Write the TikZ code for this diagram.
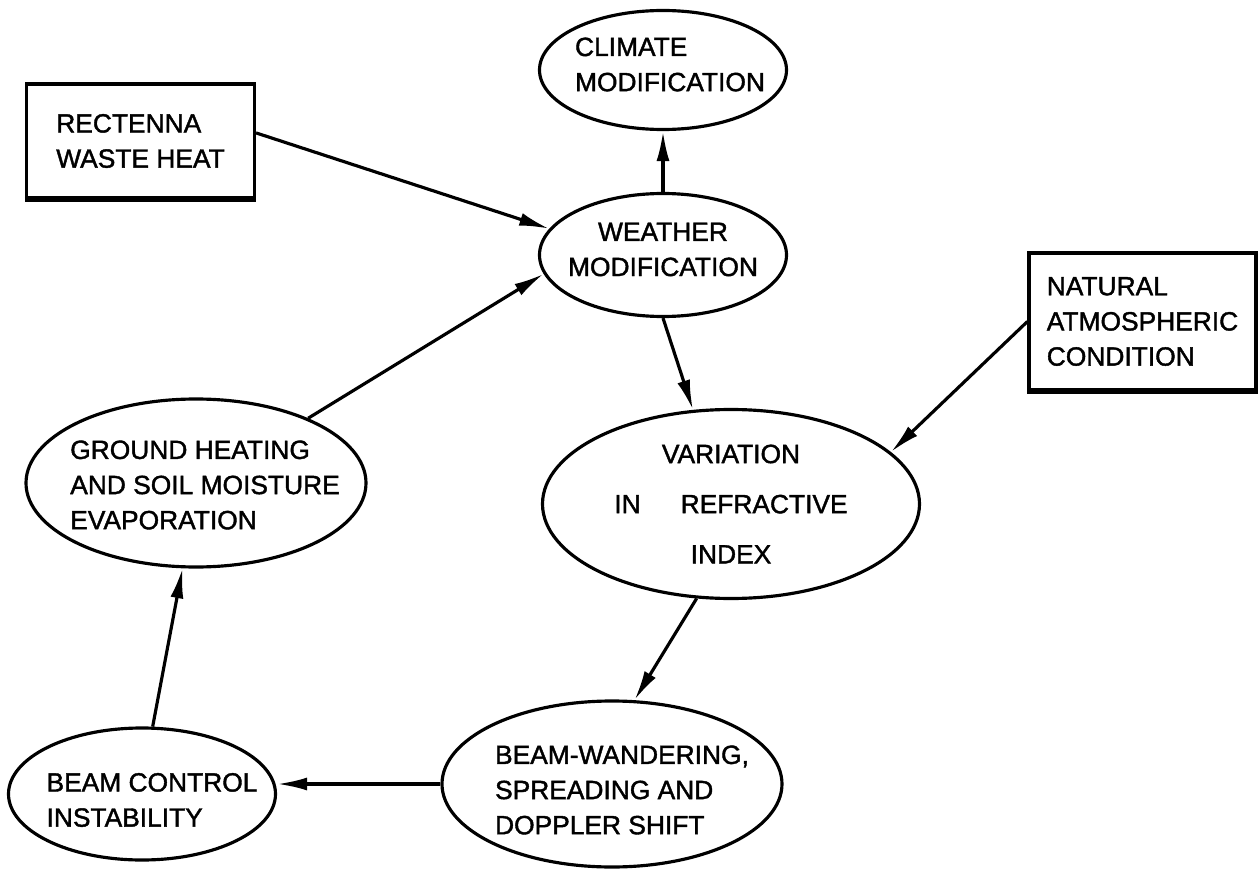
\documentclass[tikz,border=0pt]{standalone}
\usepackage{fontspec}
\setmainfont{Liberation Sans}[FakeBold=1.5]
\usetikzlibrary{shapes.geometric,arrows.meta}

\begin{document}
\begin{tikzpicture}[>={Latex[length=6mm,width=2.6mm]}, line width=1.8pt,
    font=\fontsize{15}{20}\selectfont,
    srcbox/.style={draw, rectangle, align=left, inner sep=0pt},
    blob/.style={draw, ellipse, inner sep=0pt},
    lbl/.style={align=left, inner sep=0pt}]
  \useasboundingbox (0,0) rectangle (25.16,-17.38);
  \node[srcbox, minimum width=4.56cm, minimum height=2.28cm] (rect) at (2.81,-2.82) {RECTENNA\\WASTE HEAT};
  \node[srcbox, minimum width=4.54cm, minimum height=2.74cm] (nat) at (22.85,-6.43) {NATURAL\\ATMOSPHERIC\\CONDITION};
  \draw[line width=3pt] (rect.south west) -- (rect.south east);
  \draw[line width=3pt] (nat.south west) -- (nat.south east);
  \node[blob, minimum width=4.94cm, minimum height=2.38cm] (climate) at (13.26,-1.40) {};
  \node[blob, minimum width=4.94cm, minimum height=2.46cm] (weather) at (13.26,-5.10) {};
  \node[blob, minimum width=7.54cm, minimum height=3.78cm] (refr) at (14.62,-10.08) {};
  \node[blob, minimum width=6.80cm, minimum height=3.36cm] (ground) at (3.92,-9.66) {};
  \node[blob, minimum width=5.34cm, minimum height=2.64cm] (control) at (2.84,-15.88) {};
  \node[blob, minimum width=6.80cm, minimum height=3.32cm] (wander) at (12.24,-15.68) {};
  \node[lbl, xshift=0.14cm, yshift=0.11cm] (climatetxt) at (climate) {CLIMATE\\MODIFICATION};
  \node[lbl, align=center, yshift=0.11cm] (weathertxt) at (weather) {WEATHER\\MODIFICATION};
  \node[lbl, align=center] (refrtxt) at (refr) {VARIATION\\[0.3cm]IN\hspace{0.8cm}REFRACTIVE\\[0.3cm]INDEX};
  \node[lbl, xshift=0.18cm, yshift=-0.04cm] (groundtxt) at (ground) {GROUND HEATING\\AND SOIL MOISTURE\\EVAPORATION};
  \node[lbl, xshift=0.2cm, yshift=-0.12cm] (controltxt) at (control) {BEAM CONTROL\\INSTABILITY};
  \node[lbl, xshift=0.2cm, yshift=-0.12cm] (wandertxt) at (wander) {BEAM-WANDERING,\\SPREADING AND\\DOPPLER SHIFT};
  \draw[->] (rect.4)       -- (weather.167);
  \draw[->] (weather.north) -- (climate.south);
  \draw[->] (weather.south) -- (refr.112);
  \draw[->] (nat.west)     -- (refr.18);
  \draw[->] (refr.250)     -- (wander.75);
  \draw[->] (wander.west)  -- (wander.west -| control.east);
  \draw[->] (control.81)   -- (ground.261);
  \draw[->] (ground.30)    -- (weather.189);
\end{tikzpicture}
\end{document}
